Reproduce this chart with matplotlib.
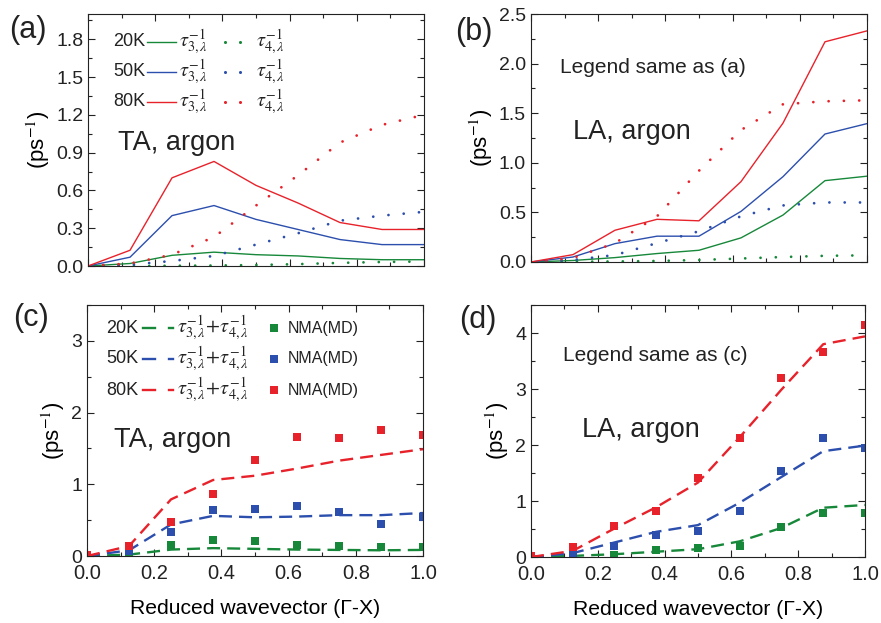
import matplotlib
matplotlib.use("Agg")
import matplotlib.pyplot as plt
from matplotlib.ticker import MultipleLocator

plt.rcParams["font.family"] = ["Liberation Sans", "DejaVu Sans"]
plt.rcParams["mathtext.fontset"] = "stix"
plt.rcParams["text.color"] = "#222222"

GREEN = "#17883a"
BLUE = "#2c4fae"
RED = "#e8222b"

temps = ["20K", "50K", "80K"]
colors = [GREEN, BLUE, RED]

# reduced wavevector grid
q = [0.0, 0.125, 0.25, 0.375, 0.5, 0.625, 0.75, 0.875, 1.0]

# (a) TA: three-phonon (solid) and four-phonon (dotted) scattering rates, ps^-1
ta_tau3 = [
    [0.0, 0.02, 0.085, 0.11, 0.09, 0.08, 0.06, 0.05, 0.05],
    [0.0, 0.07, 0.40, 0.48, 0.37, 0.29, 0.21, 0.17, 0.17],
    [0.0, 0.125, 0.70, 0.83, 0.64, 0.50, 0.345, 0.29, 0.29],
]
ta_tau4 = [
    [0.0, 0.0, 0.002, 0.004, 0.008, 0.015, 0.025, 0.032, 0.036],
    [0.0, 0.01, 0.04, 0.08, 0.17, 0.26, 0.36, 0.40, 0.43],
    [0.0, 0.02, 0.09, 0.23, 0.48, 0.72, 0.98, 1.12, 1.20],
]

# (b) LA
la_tau3 = [
    [0.0, 0.015, 0.044, 0.085, 0.118, 0.243, 0.473, 0.82, 0.865],
    [0.0, 0.05, 0.185, 0.26, 0.26, 0.51, 0.86, 1.29, 1.395],
    [0.0, 0.074, 0.32, 0.43, 0.415, 0.81, 1.40, 2.22, 2.33],
]
la_tau4 = [
    [0.0, 0.002, 0.005, 0.01, 0.02, 0.035, 0.05, 0.062, 0.067],
    [0.0, 0.02, 0.07, 0.19, 0.31, 0.46, 0.57, 0.60, 0.60],
    [0.0, 0.04, 0.19, 0.46, 0.92, 1.33, 1.59, 1.62, 1.63],
]

# (c) TA: total (dashed) vs NMA(MD) (squares)
ta_total = [
    [0.0, 0.02, 0.09, 0.11, 0.10, 0.09, 0.085, 0.08, 0.085],
    [0.0, 0.08, 0.44, 0.56, 0.54, 0.55, 0.57, 0.57, 0.60],
    [0.0, 0.14, 0.79, 1.06, 1.12, 1.22, 1.33, 1.41, 1.49],
]
ta_nma = [
    [0.0, 0.02, 0.15, 0.22, 0.21, 0.16, 0.14, 0.12, 0.12],
    [0.0, 0.07, 0.34, 0.64, 0.65, 0.70, 0.61, 0.45, 0.54],
    [0.02, 0.14, 0.48, 0.87, 1.34, 1.66, 1.65, 1.76, 1.69],
]

# (d) LA
la_total = [
    [0.0, 0.02, 0.05, 0.095, 0.14, 0.28, 0.52, 0.88, 0.93],
    [0.0, 0.07, 0.26, 0.45, 0.57, 0.97, 1.43, 1.89, 1.99],
    [0.0, 0.11, 0.51, 0.89, 1.33, 2.14, 2.99, 3.80, 3.94],
]
la_nma = [
    [0.0, 0.01, 0.04, 0.12, 0.17, 0.19, 0.53, 0.78, 0.79],
    [0.0, 0.05, 0.19, 0.40, 0.47, 0.83, 1.53, 2.12, 1.94],
    [0.02, 0.18, 0.56, 0.83, 1.41, 2.13, 3.20, 3.66, 4.15],
]

DOT = (0, (0.01, 5.5))
DASH = (0, (5.5, 3.0))


def style(ax, ymax, ymaj, ymin, xlabels):
    ax.set_xlim(0, 1)
    ax.set_ylim(0, ymax)
    ax.xaxis.set_major_locator(MultipleLocator(0.2))
    ax.xaxis.set_minor_locator(MultipleLocator(0.1))
    ax.yaxis.set_major_locator(MultipleLocator(ymaj))
    ax.yaxis.set_minor_locator(MultipleLocator(ymin))
    ax.tick_params(which="both", direction="in", top=True, right=True,
                   width=0.8, colors="#222222", labelsize=14)
    ax.tick_params(which="major", length=5)
    ax.tick_params(which="minor", length=3)
    ax.tick_params(axis="y", pad=3.5)
    for s in ax.spines.values():
        s.set_linewidth(0.8)
        s.set_color("#222222")
    ax.set_ylabel("(ps$^{-1}$)", fontsize=16, labelpad=3)
    if xlabels:
        ax.set_xlabel("Reduced wavevector (\u0393-X)", fontsize=15.2, labelpad=11)
        ax.tick_params(axis="x", pad=6, labelsize=14.5)
    else:
        ax.tick_params(axis="x", labelbottom=False)


fig = plt.figure(figsize=(8.81, 6.23), dpi=100)
ax_a = fig.add_axes([0.0999, 0.573, 0.3814, 0.4045])
ax_b = fig.add_axes([0.6027, 0.5795, 0.3814, 0.398])
ax_c = fig.add_axes([0.0988, 0.1075, 0.3814, 0.4029])
ax_d = fig.add_axes([0.6027, 0.1059, 0.3791, 0.4045])

# (a) and (b): solid tau3, dotted tau4
for ax, t3, t4 in [(ax_a, ta_tau3, ta_tau4), (ax_b, la_tau3, la_tau4)]:
    for c, y3, y4 in zip(colors, t3, t4):
        ax.plot(q, y3, color=c, lw=1.0)
        ax.plot(q, y4, color=c, lw=2.0, linestyle=DOT, dash_capstyle="round")

# (c) and (d): dashed total, square NMA
for ax, tot, nma in [(ax_c, ta_total, ta_nma), (ax_d, la_total, la_nma)]:
    for c, yt in zip(colors, tot):
        ax.plot(q, yt, color=c, lw=1.7, linestyle=DASH)
    for c, yn in zip(colors, nma):
        ax.plot(q, yn, color=c, linestyle="none", marker="s", markersize=6.2,
                markeredgewidth=0)

style(ax_a, 2.0, 0.3, 0.15, False)
style(ax_b, 2.5, 0.5, 0.25, False)
style(ax_c, 3.5, 1, 0.5, True)
style(ax_d, 4.5, 1, 0.5, True)
ax_a.set_yticks([0.0, 0.3, 0.6, 0.9, 1.2, 1.5, 1.8])

# manual legend in (a)
tau3 = r"$\tau_{3,\lambda}^{-1}$"
tau4 = r"$\tau_{4,\lambda}^{-1}$"
rows_a = [0.889, 0.770, 0.651]
for t, c, yy in zip(temps, colors, rows_a):
    ax_a.text(0.17, yy, t, transform=ax_a.transAxes, ha="right", va="center",
              fontsize=13)
    ax_a.plot([0.175, 0.262], [yy, yy], transform=ax_a.transAxes, color=c, lw=1.0)
    ax_a.text(0.272, yy, tau3, transform=ax_a.transAxes, ha="left",
              va="center", fontsize=14.5)
    ax_a.plot([0.408, 0.452], [yy, yy], transform=ax_a.transAxes, color=c,
              linestyle="none", marker="o", markersize=2.2, markeredgewidth=0)
    ax_a.text(0.500, yy, tau4, transform=ax_a.transAxes, ha="left",
              va="center", fontsize=14.5)

ax_a.text(0.09, 0.49, "TA, argon", transform=ax_a.transAxes, fontsize=19.5,
          va="center")
ax_b.text(0.086, 0.786, "Legend same as (a)", transform=ax_b.transAxes,
          fontsize=15, va="center")
ax_b.text(0.125, 0.524, "LA, argon", transform=ax_b.transAxes, fontsize=19.5,
          va="center")

# manual legend in (c)
rows_c = [0.908, 0.785, 0.661]
tsum = r"$\tau_{3,\lambda}^{-1}\!+\!\tau_{4,\lambda}^{-1}$"
for t, c, yy in zip(temps, colors, rows_c):
    ax_c.text(0.152, yy, t, transform=ax_c.transAxes, ha="right", va="center",
              fontsize=13)
    ax_c.plot([0.166, 0.203], [yy, yy], transform=ax_c.transAxes, color=c, lw=1.7)
    ax_c.plot([0.244, 0.256], [yy, yy], transform=ax_c.transAxes, color=c, lw=1.7)
    ax_c.text(0.268, yy, tsum, transform=ax_c.transAxes, ha="left",
              va="center", fontsize=14.5)
    ax_c.plot([0.557], [yy], transform=ax_c.transAxes, color=c, marker="s",
              markersize=6.2, markeredgewidth=0, linestyle="none")
    ax_c.text(0.598, yy, "NMA(MD)", transform=ax_c.transAxes, ha="left",
              va="center", fontsize=11.5)

ax_c.text(0.08, 0.462, "TA, argon", transform=ax_c.transAxes, fontsize=19.5,
          va="center")
ax_d.text(0.096, 0.80, "Legend same as (c)", transform=ax_d.transAxes,
          fontsize=15, va="center")
ax_d.text(0.153, 0.504, "LA, argon", transform=ax_d.transAxes, fontsize=19.5,
          va="center")

# panel letters
for lbl, x, y in [("(a)", 28, 30), ("(b)", 474, 32), ("(c)", 31, 318),
                  ("(d)", 478, 320)]:
    fig.text(x / 881, 1 - y / 623, lbl, fontsize=22, ha="center", va="center")

fig.savefig("out.png", dpi=100)
